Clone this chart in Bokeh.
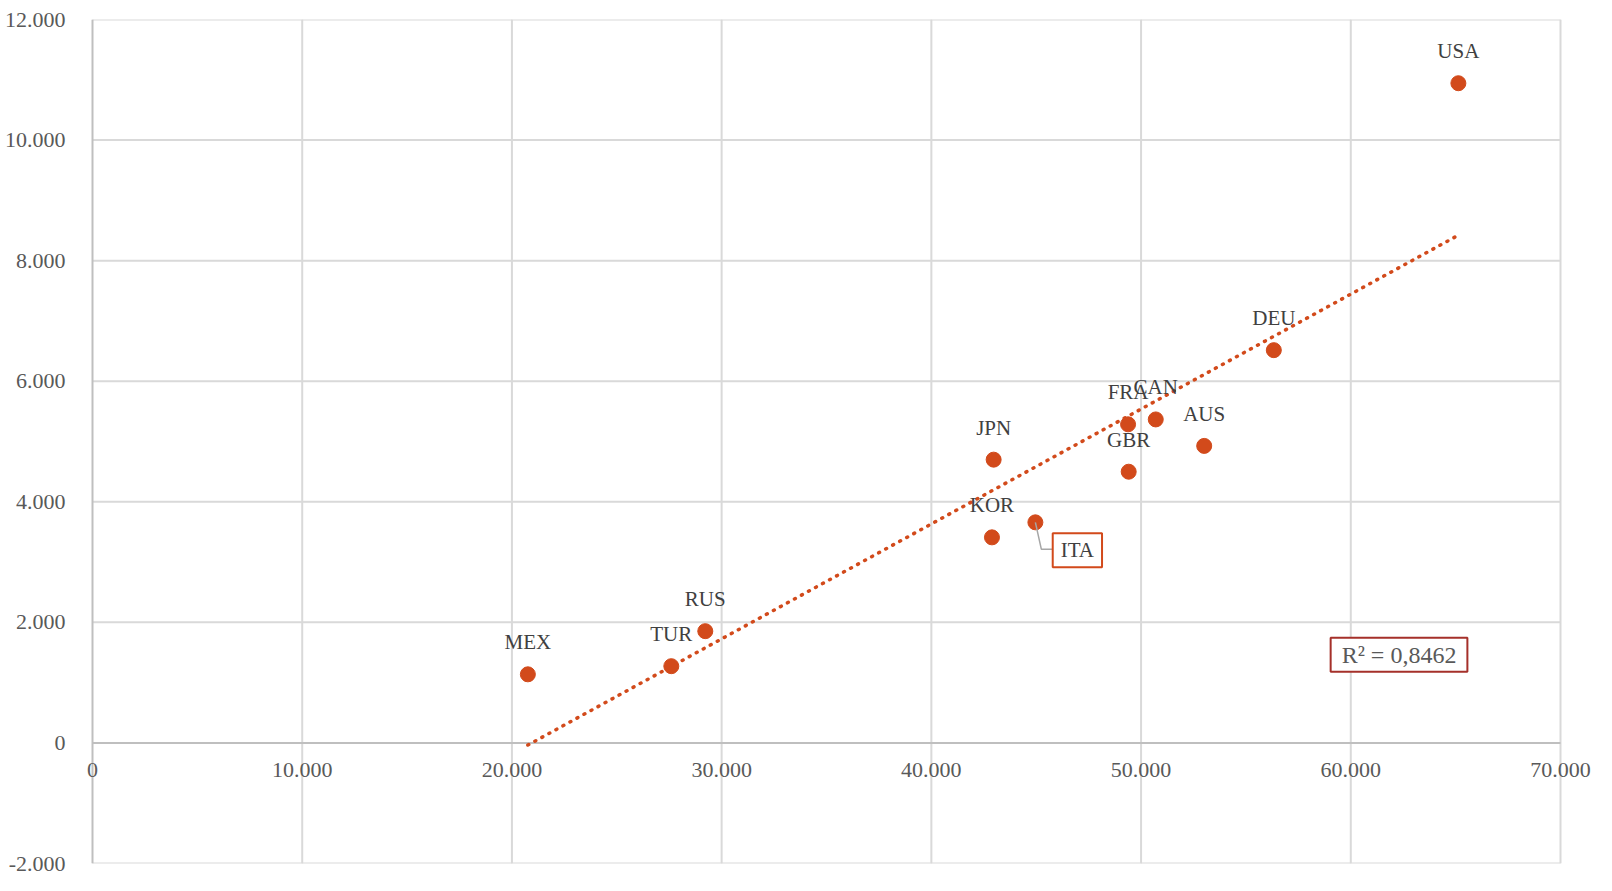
import numpy as np
from bokeh.plotting import figure
from bokeh.models import Range1d, FixedTicker, LabelSet, Label, ColumnDataSource
from bokeh.embed import file_html
from bokeh.resources import INLINE

# ---- data ----
countries = ["USA", "DEU", "CAN", "FRA", "AUS", "GBR", "JPN", "ITA", "KOR", "RUS", "TUR", "MEX"]
gdp_pc = [65130, 56330, 50700, 49380, 53010, 49410, 42970, 44960, 42890, 29220, 27600, 20760]
health_pc = [10943, 6515, 5366, 5285, 4927, 4499, 4699, 3659, 3410, 1854, 1273, 1138]

x_ticks = [0, 10000, 20000, 30000, 40000, 50000, 60000, 70000]
x_tick_labels = ["0", "10.000", "20.000", "30.000", "40.000", "50.000", "60.000", "70.000"]
y_ticks = [-2000, 0, 2000, 4000, 6000, 8000, 10000, 12000]
y_tick_labels = ["-2.000", "0", "2.000", "4.000", "6.000", "8.000", "10.000", "12.000"]
r2_text = "R\u00b2 = 0,8462"

# ---- styling ----
FONT = "Liberation Serif"
DOT = "#D24A1B"
TICK_COLOR = "#595959"
LABEL_COLOR = "#404040"
GRID = "#D9D9D9"
AXIS = "#BFBFBF"

X0, X1 = x_ticks[0], x_ticks[-1]
Y0, Y1 = y_ticks[0], y_ticks[-1]

BL, BT, BR, BB = 80, 19, 0, 12
FRAME_W, FRAME_H = 1516, 844
PLOT_W = 1468                 # pixels spanned by 0..70000
LEFT_PAD = 12                 # pixels between frame edge and x = 0
KX = PLOT_W / (X1 - X0)       # px per unit
x_start = X0 - LEFT_PAD / KX
x_end = x_start + FRAME_W / KX

p = figure(width=BL + FRAME_W + BR, height=BT + FRAME_H + BB,
           x_range=Range1d(x_start, x_end), y_range=Range1d(Y0, Y1),
           x_axis_location=None, output_backend="svg", toolbar_location=None,
           min_border_left=BL, min_border_top=BT, min_border_right=BR, min_border_bottom=BB)
p.background_fill_color = "white"
p.border_fill_color = "white"
p.outline_line_color = None

# y axis (labels only)
p.yaxis.ticker = FixedTicker(ticks=y_ticks)
p.yaxis.major_label_overrides = {v: s for v, s in zip(y_ticks, y_tick_labels)}
p.yaxis.axis_line_color = None
p.yaxis.major_tick_line_color = None
p.yaxis.minor_tick_line_color = None
p.yaxis.major_label_standoff = 9
p.yaxis.major_label_text_font = FONT
p.yaxis.major_label_text_font_size = "22px"
p.yaxis.major_label_text_color = TICK_COLOR
p.ygrid.visible = False

# grid lines drawn over the 0..70000 / -2000..12000 box
gx = [t for t in x_ticks if t != 0]
p.segment(x0=gx, y0=[Y0] * len(gx), x1=gx, y1=[Y1] * len(gx),
          line_color=GRID, line_width=2)
gy = [t for t in y_ticks if t != 0]
p.segment(x0=[X0] * len(gy), y0=gy, x1=[X1] * len(gy), y1=gy,
          line_color=GRID, line_width=2)
# axis lines at x=0 and y=0
p.segment(x0=[0, X0], y0=[Y0, 0], x1=[0, X1], y1=[Y1, 0],
          line_color=AXIS, line_width=2)

# x tick labels along y=0
xsrc = ColumnDataSource(dict(x=x_ticks, y=[0] * len(x_ticks), t=x_tick_labels))
p.add_layout(LabelSet(x="x", y="y", text="t", source=xsrc, y_offset=-27,
                      text_align="center", text_baseline="middle",
                      text_font=FONT, text_font_size="22px", text_color=TICK_COLOR))

# trend line (least squares fit of the data)
xs = np.array(gdp_pc, dtype=float)
ys = np.array(health_pc, dtype=float)
slope, intercept = np.polyfit(xs, ys, 1)
tx = [xs.min(), xs.max()]
ty = [slope * v + intercept for v in tx]
p.line(tx, ty, line_color=DOT, line_width=3.5, line_dash="1 7", line_cap="round")

# points
src = ColumnDataSource(dict(x=gdp_pc, y=health_pc, name=countries))
p.scatter("x", "y", source=src, size=15, fill_color=DOT, line_color=DOT)

# country labels above points (ITA handled separately)
lab_src = ColumnDataSource(dict(
    x=[x for x, c in zip(gdp_pc, countries) if c != "ITA"],
    y=[y for y, c in zip(health_pc, countries) if c != "ITA"],
    t=[c for c in countries if c != "ITA"]))
p.add_layout(LabelSet(x="x", y="y", text="t", source=lab_src, y_offset=32,
                      text_align="center", text_baseline="middle",
                      text_font=FONT, text_font_size="21px", text_color=LABEL_COLOR))

# ITA callout
XPP = 1 / KX
YPP = (Y1 - Y0) / FRAME_H
ix = gdp_pc[countries.index("ITA")]
iy = health_pc[countries.index("ITA")]
p.line([ix, ix + 6 * XPP, ix + 17 * XPP], [iy, iy - 27 * YPP, iy - 27 * YPP],
       line_color="#A6A6A6", line_width=1.5)
p.add_layout(Label(x=ix, y=iy, x_offset=42, y_offset=-28, text="ITA",
                   text_align="center", text_baseline="middle",
                   text_font=FONT, text_font_size="21px", text_color=LABEL_COLOR,
                   border_line_color=DOT, border_line_width=2,
                   background_fill_color="white", padding=(8, 5)))

# R² label
p.add_layout(Label(x=62300, y=1463, text=r2_text,
                   text_align="center", text_baseline="middle",
                   text_font=FONT, text_font_size="24px", text_color=TICK_COLOR,
                   border_line_color="#A5302A", border_line_width=2,
                   background_fill_color="white", padding=(11, 4)))

open("out.html", "w").write(file_html(p, INLINE))
